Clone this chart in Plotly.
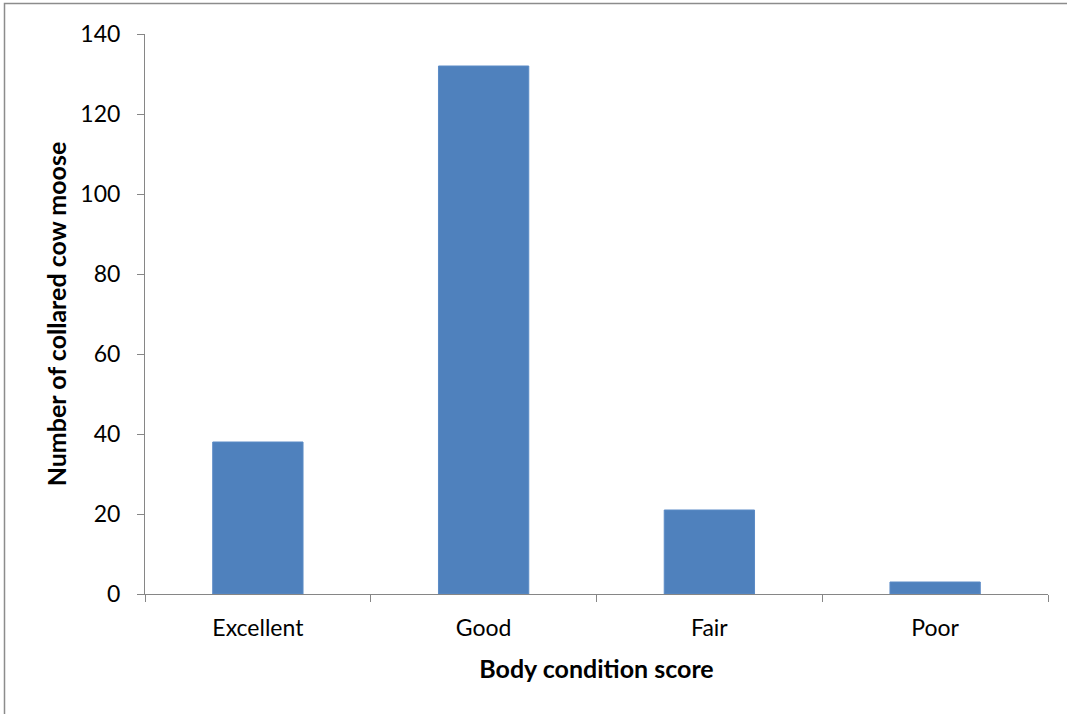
import plotly.graph_objects as go

categories = ["Excellent", "Good", "Fair", "Poor"]
counts = [38, 132, 21, 3]
y_ticks = [0, 20, 40, 60, 80, 100, 120, 140]

W, H = 1067, 714
L, R, T, B = 145, 19, 34, 120
pw, ph = W - L - R, H - T - B

fig = go.Figure(go.Bar(
    x=categories, y=counts,
    marker=dict(color="#4F81BD", line=dict(color="#5B8BC6", width=1)),
    width=0.4,
))

axis_color = "#868686"
fig.update_layout(
    width=W, height=H,
    margin=dict(l=L, r=R, t=T, b=B),
    paper_bgcolor="white", plot_bgcolor="white",
    font=dict(family="Lato, Carlito, Calibri, sans-serif", color="black", size=23),
    showlegend=False,
    xaxis=dict(
        type="category", tickson="boundaries",
        showline=True, linecolor=axis_color, linewidth=1,
        ticks="outside", ticklen=7, tickcolor=axis_color,
        showgrid=False, range=[-0.5, 3.5],
        tickfont=dict(size=23), ticklabelstandoff=13,
        title=dict(text="<b>Body condition score</b>", font=dict(size=25), standoff=20),
    ),
    yaxis=dict(
        range=[0, 140], tickvals=y_ticks,
        showline=True, linecolor=axis_color, linewidth=1,
        ticks="outside", ticklen=7, tickcolor=axis_color,
        showgrid=False, zeroline=False,
        tickfont=dict(size=23), ticklabelstandoff=12,
        title=dict(text="<b>Number of collared cow moose</b>", font=dict(size=25), standoff=6),
    ),
    shapes=[dict(
        type="rect", xref="paper", yref="paper",
        x0=(4.5 - L) / pw, x1=(W + 5 - L) / pw,
        y0=-(H + 5 - T - ph) / ph, y1=1 + (T - 3.5) / ph,
        line=dict(color="#8C8C8C", width=1.5), fillcolor="rgba(0,0,0,0)",
        layer="below",
    )],
)

fig.write_html("out.html")
